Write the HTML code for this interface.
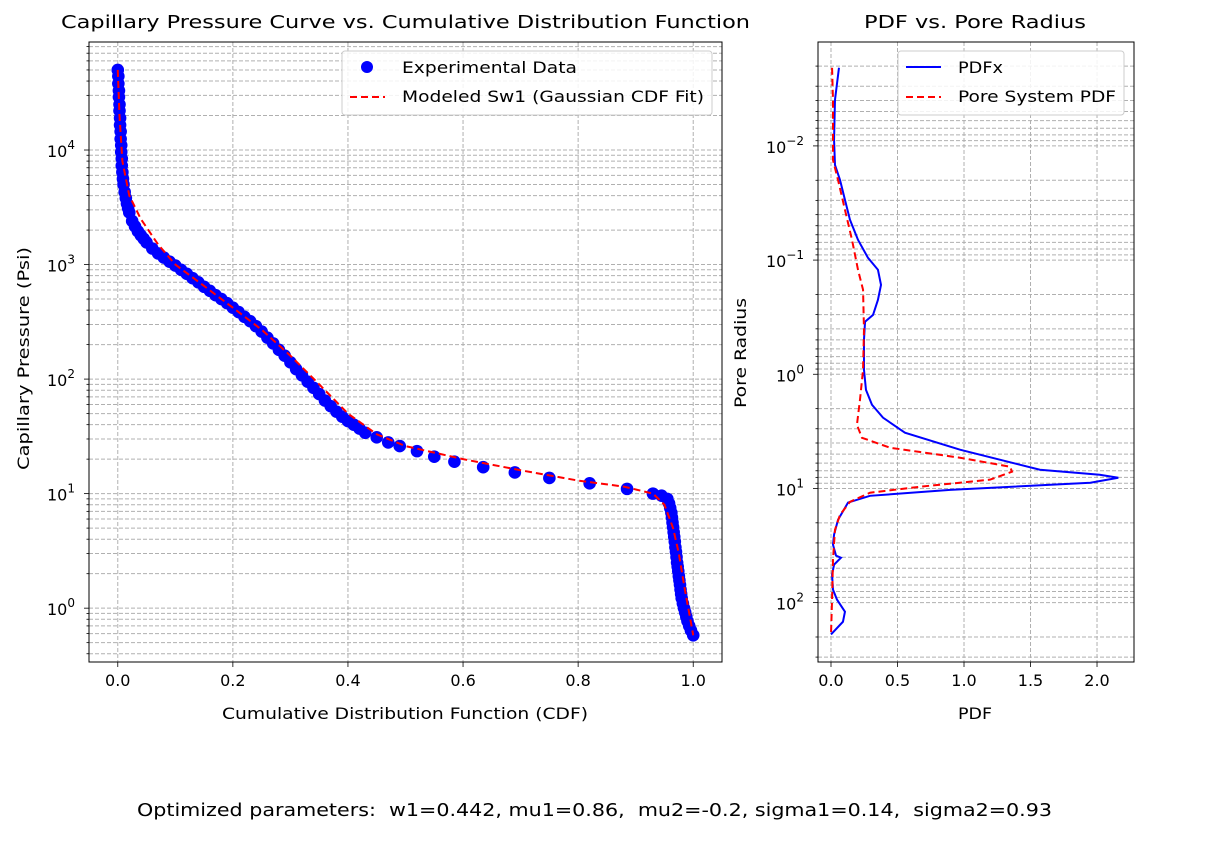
<!DOCTYPE html>
<html><head><meta charset="utf-8"><style>
body{margin:0;background:#fff;}
svg text{font-family:"DejaVu Sans","Liberation Sans",sans-serif;fill:#000;white-space:pre;}
</style></head><body>
<svg id="s" width="1224" height="848" xmlns="http://www.w3.org/2000/svg"></svg>
<script>
// Left chart data
const expCdf=[0,0.001,0.001,0.002,0.002,0.003,0.003,0.004,0.004,0.005,0.005,0.006,0.006,0.007,0.007,0.008,0.009,0.01,0.012,0.014,0.016,0.018,0.02,0.025,0.03,0.035,0.04,0.045,0.05,0.06,0.07,0.08,0.09,0.1,0.11,0.12,0.13,0.14,0.15,0.16,0.17,0.18,0.19,0.2,0.21,0.22,0.23,0.24,0.25,0.26,0.27,0.28,0.29,0.3,0.31,0.32,0.33,0.34,0.35,0.36,0.37,0.38,0.39,0.4,0.41,0.42,0.43,0.45,0.47,0.49,0.52,0.55,0.585,0.635,0.69,0.75,0.82,0.885,0.93,0.945,0.955,0.958,0.96,0.962,0.963,0.964,0.965,0.966,0.967,0.968,0.969,0.97,0.971,0.972,0.973,0.974,0.975,0.976,0.977,0.978,0.979,0.98,0.982,0.984,0.986,0.988,0.99,0.993,0.996,1.0];
const expPc=[50000,44000,38000,33000,29000,25000,22000,19000,16500,14500,12500,11000,9600,8400,7300,6400,5600,5000,4300,3800,3400,3100,2850,2400,2150,1950,1800,1680,1560,1380,1250,1150,1060,980,900,830,760,700,640,590,540,500,460,420,385,350,320,290,260,230,205,180,160,140,122,108,95,84,74,65,58,52,47,43,40,37,34,31,28,26,23.5,21,19,17,15.3,13.7,12.3,11,10,9.6,9.0,8.2,7.5,6.8,6.2,5.6,5.1,4.6,4.2,3.8,3.4,3.1,2.8,2.5,2.3,2.1,1.9,1.75,1.6,1.45,1.33,1.22,1.1,1.0,0.92,0.84,0.77,0.7,0.64,0.58];
const modCdf=[0,0.003,0.008,0.02,0.04,0.07,0.1,0.15,0.2,0.25,0.3,0.35,0.4,0.45,0.5,0.6,0.7,0.8,0.88,0.93,0.95,0.965,0.975,0.985,0.995,1.0];
const modPc=[50000,20000,8000,4000,2500,1500,1000,650,420,270,160,90,50,33,26,20,16,13,11.5,10,8,5,3,1.5,0.8,0.58];
const leftXTicks=[0,0.2,0.4,0.6,0.8,1.0];
const leftXTickLabels=["0.0","0.2","0.4","0.6","0.8","1.0"];
const leftYDecades=[0,1,2,3,4];
// Right chart data
const pdfxVal=[0.06,0.03,0.023,0.03,0.068,0.105,0.143,0.203,0.278,0.353,0.376,0.353,0.316,0.256,0.248,0.248,0.263,0.308,0.391,0.556,0.97,1.571,2.02,2.16,1.95,0.895,0.293,0.128,0.053,0.023,0.015,0.038,0.075,0.023,0.008,0.015,0.045,0.105,0.09,0];
const pdfxRad=[0.00207,0.00395,0.00886,0.01467,0.0199,0.0297,0.0445,0.0665,0.0955,0.1216,0.165,0.223,0.302,0.347,0.499,0.914,1.37,1.85,2.4,3.25,4.58,6.86,7.59,8.06,8.91,10.3,11.6,13.3,18.8,25.4,31.1,38.8,40.4,46.5,56.9,76.9,94.1,120,147,190];
const poreVal=[0.008,0.015,0.015,0.053,0.105,0.158,0.203,0.241,0.248,0.241,0.218,0.195,0.233,0.444,0.97,1.346,1.361,1.195,0.669,0.293,0.143,0.068,0.03,0.015,0.008,0];
const poreRad=[0.00207,0.00395,0.0133,0.0199,0.0363,0.0665,0.1216,0.182,0.408,0.914,1.67,2.77,3.6,4.4,5.38,6.45,7.13,8.38,9.66,10.9,13.1,17.0,23.0,42.1,94.1,190];
const rightXTicks=[0,0.5,1.0,1.5,2.0];
const rightXTickLabels=["0.0","0.5","1.0","1.5","2.0"];
const rightYDecades=[-2,-1,0,1,2];

const S=document.getElementById('s');const NS='http://www.w3.org/2000/svg';
function mk(t,a,p){const e=document.createElementNS(NS,t);for(const k in a)e.setAttribute(k,a[k]);(p||S).appendChild(e);return e;}
const L={x0:89,x1:722,y0:42,y1:662,xmin:-0.05,xmax:1.05,lmin:-0.47,lmax:4.943};
const lx=v=>L.x0+(v-L.xmin)/(L.xmax-L.xmin)*(L.x1-L.x0);
const ly=v=>L.y1-(Math.log10(v)-L.lmin)/(L.lmax-L.lmin)*(L.y1-L.y0);
const R={x0:818,x1:1134,y0:42,y1:662,xmin:-0.0977,xmax:2.278,lmin:-2.91,lmax:2.52};
const rx=v=>R.x0+(v-R.xmin)/(R.xmax-R.xmin)*(R.x1-R.x0);
const ry=v=>R.y0+(Math.log10(v)-R.lmin)/(R.lmax-R.lmin)*(R.y1-R.y0);

function grid(A,fx,fy,xt,xl,decs,gname){
 const g=mk('g',{});
 for(let d=Math.floor(Math.min(A.lmin,A.lmax))-1;d<=Math.ceil(Math.max(A.lmin,A.lmax))+1;d++){
  for(let m=1;m<10;m++){const v=m*Math.pow(10,d);const y=fy(v);if(y<A.y0||y>A.y1)continue;
   mk('line',{x1:A.x0,x2:A.x1,y1:y,y2:y,stroke:'#b0b0b0','stroke-dasharray':'4,2','stroke-width':1},g);
   mk('line',{x1:A.x0,x2:A.x0-(m==1?5:2.5),y1:y,y2:y,stroke:'#000','stroke-width':0.8},g);}
 }
 xt.forEach((v,i)=>{const x=fx(v);
  mk('line',{x1:x,x2:x,y1:A.y0,y2:A.y1,stroke:'#b0b0b0','stroke-dasharray':'4,2','stroke-width':1},g);
  mk('line',{x1:x,x2:x,y1:A.y1,y2:A.y1+5,stroke:'#000','stroke-width':0.8},g);
  const t=mk('text',{x:x,y:A.y1+24,'text-anchor':'middle','font-size':16},g);t.textContent=xl[i];
  });
 decs.forEach(d=>{const y=fy(Math.pow(10,d));
  const t=mk('text',{x:A.x0-14,y:y+7,'text-anchor':'end','font-size':16},g);
  
  const a=mk('tspan',{},t);a.textContent='10';const b=mk('tspan',{dy:-8,'font-size':12},t);b.textContent=String(d).replace('-','\u2212');});
 const r=mk('rect',{x:A.x0,y:A.y0,width:A.x1-A.x0,height:A.y1-A.y0,fill:'none',stroke:'#000','stroke-width':1});
 
}
grid(L,lx,ly,leftXTicks,leftXTickLabels,leftYDecades,'left-grid');
grid(R,rx,ry,rightXTicks,rightXTickLabels,rightYDecades,'right-grid');

const cl=mk('clipPath',{id:'cl'});mk('rect',{x:L.x0,y:L.y0,width:L.x1-L.x0,height:L.y1-L.y0},cl);
const cr=mk('clipPath',{id:'cr'});mk('rect',{x:R.x0,y:R.y0,width:R.x1-R.x0,height:R.y1-R.y0},cr);

const pts=mk('g',{'clip-path':'url(#cl)'});
expCdf.forEach((c,i)=>{const e=mk('circle',{cx:lx(c),cy:ly(expPc[i]),r:6.3,fill:'#0000ff'},pts);
 });
const mp=mk('polyline',{points:modCdf.map((c,i)=>lx(c)+','+ly(modPc[i])).join(' '),fill:'none',stroke:'#ff0000','stroke-width':2,'stroke-dasharray':'7,4','clip-path':'url(#cl)'});

const bl=mk('polyline',{points:pdfxVal.map((v,i)=>rx(v)+','+ry(pdfxRad[i])).join(' '),fill:'none',stroke:'#0000ff','stroke-width':2,'clip-path':'url(#cr)'});

const rl=mk('polyline',{points:poreVal.map((v,i)=>rx(v)+','+ry(poreRad[i])).join(' '),fill:'none',stroke:'#ff0000','stroke-width':2,'stroke-dasharray':'7,4','clip-path':'url(#cr)'});

</script>
<svg style="position:absolute;left:0;top:0" width="1224" height="848" xmlns="http://www.w3.org/2000/svg">
<text x="61" y="28" font-size="18" textLength="689" lengthAdjust="spacingAndGlyphs">Capillary Pressure Curve vs. Cumulative Distribution Function</text>
<text x="864" y="28" font-size="18" textLength="222" lengthAdjust="spacingAndGlyphs">PDF vs. Pore Radius</text>
<text x="222" y="719" font-size="16" textLength="366" lengthAdjust="spacingAndGlyphs">Cumulative Distribution Function (CDF)</text>
<text x="958" y="719" font-size="16" textLength="34" lengthAdjust="spacingAndGlyphs">PDF</text>
<text transform="translate(29,470) rotate(-90)" font-size="16" textLength="223" lengthAdjust="spacingAndGlyphs">Capillary Pressure (Psi)</text>
<text transform="translate(746,408) rotate(-90)" font-size="16" textLength="110" lengthAdjust="spacingAndGlyphs">Pore Radius</text>
<g>
<rect x="342" y="51" width="370" height="64" rx="3" fill="#fff" fill-opacity="0.85" stroke="#ccc"/>
<circle cx="367" cy="67" r="6" fill="#0000ff"/>
<line x1="350" x2="385" y1="97" y2="97" stroke="#f00" stroke-width="2" stroke-dasharray="7,4"/>
<text x="402" y="73" font-size="16" textLength="175" lengthAdjust="spacingAndGlyphs">Experimental Data</text>
<text x="402" y="102" font-size="16" textLength="302" lengthAdjust="spacingAndGlyphs">Modeled Sw1 (Gaussian CDF Fit)</text>
</g>
<g>
<rect x="898" y="51" width="226" height="64" rx="3" fill="#fff" fill-opacity="0.85" stroke="#ccc"/>
<line x1="906" x2="941" y1="67" y2="67" stroke="#00f" stroke-width="2"/>
<line x1="906" x2="941" y1="97" y2="97" stroke="#f00" stroke-width="2" stroke-dasharray="7,4"/>
<text x="958" y="73" font-size="16" textLength="45" lengthAdjust="spacingAndGlyphs">PDFx</text>
<text x="958" y="102" font-size="16" textLength="158" lengthAdjust="spacingAndGlyphs">Pore System PDF</text>
</g>
<text x="137" y="816" font-size="18" textLength="915" lengthAdjust="spacingAndGlyphs">Optimized parameters:  w1=0.442, mu1=0.86,  mu2=-0.2, sigma1=0.14,  sigma2=0.93</text>
</svg>
</body></html>
